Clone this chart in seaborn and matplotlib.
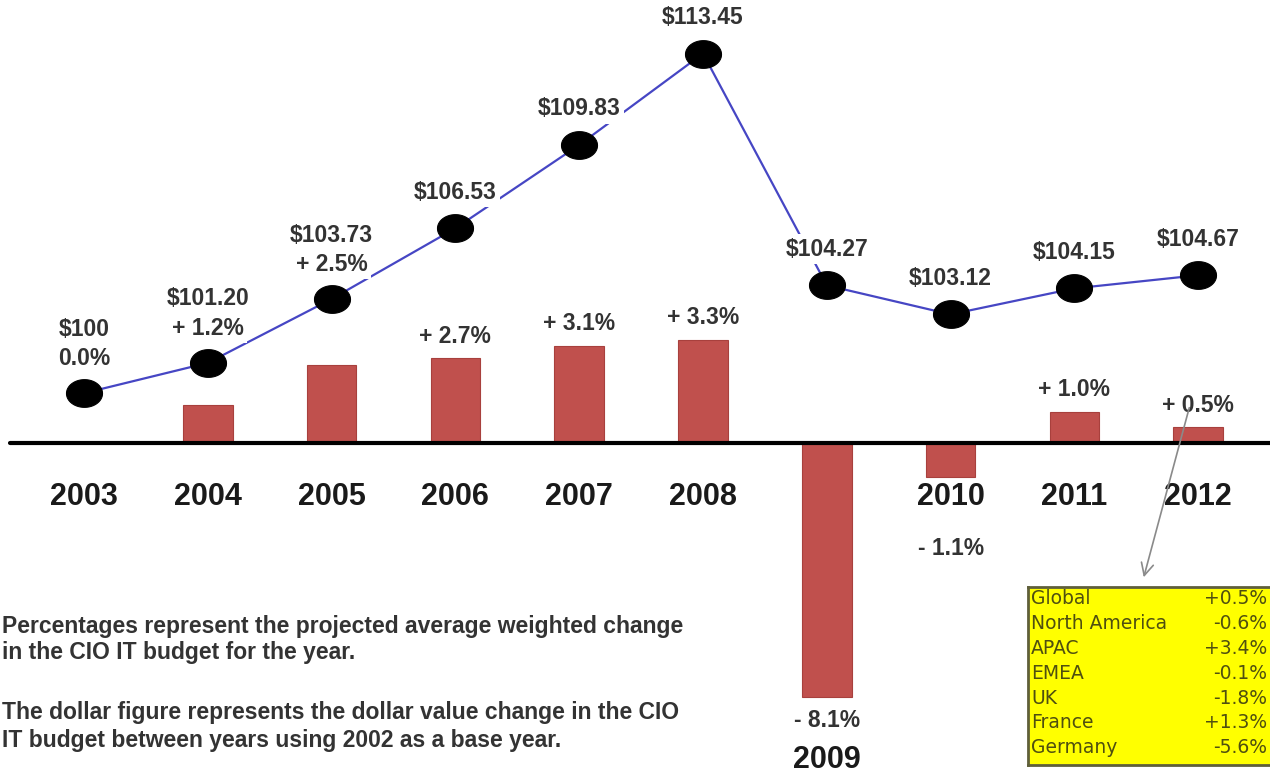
import numpy as np
import pandas as pd
import matplotlib
matplotlib.use("Agg")
import matplotlib.pyplot as plt
from matplotlib.path import Path
import seaborn as sns

# ---------------- data ----------------
years = ["2003", "2004", "2005", "2006", "2007", "2008", "2009", "2010", "2011", "2012"]
pct_change = [0.0, 1.2, 2.5, 2.7, 3.1, 3.3, -8.1, -1.1, 1.0, 0.5]
dollar_value = [100.00, 101.20, 103.73, 106.53, 109.83, 113.45, 104.27, 103.12, 104.15, 104.67]

regions = ["Global", "North America", "APAC", "EMEA", "UK", "France", "Germany"]
region_change = ["+0.5%", "-0.6%", "+3.4%", "-0.1%", "-1.8%", "+1.3%", "-5.6%"]

note_lines = [
    "Percentages represent the projected average weighted change",
    "in the CIO IT budget for the year.",
    "The dollar figure represents the dollar value change in the CIO",
    "IT budget between years using 2002 as a base year.",
]

# ---------------- style ----------------
sns.set_theme(style="white")
plt.rcParams["font.family"] = ["Liberation Sans", "DejaVu Sans"]

W, H = 1270, 773
X0, DX = 84, 123.8
fig = plt.figure(figsize=(W / 100, H / 100), dpi=100)
fig.patch.set_facecolor("white")
ax = fig.add_axes([0, 0, 1, 1])

df = pd.DataFrame({"year": years, "pct": pct_change, "dollar": dollar_value})
df["pos"] = np.arange(len(df))

BAR = "#c0504d"
LINE = "#4646c4"
TXT = "#333333"

sns.barplot(data=df, x="year", y="pct", ax=ax, color=BAR, width=0.4,
            saturation=1, edgecolor="#a8403d", linewidth=0.8, zorder=2)

# axis mapping: zero at 443 px, 31.3 px per percent
ax.set_xlim(-X0 / DX, (W - X0) / DX)
ax.set_ylim(-(H - 443) / 31.3, 443 / 31.3)
ax.axis("off")
ax.axhline(0, xmin=10 / W, xmax=1, color="black", lw=3, zorder=3)

# dollar line on twin axis
ax2 = ax.twinx()
theta = np.linspace(0, 2 * np.pi, 60)
ellipse = Path(np.column_stack([1.3 * np.cos(theta), np.sin(theta)]), closed=True)
sns.lineplot(data=df, x="pos", y="dollar", ax=ax2, color=LINE, lw=1.6,
             marker=ellipse, markersize=26, markerfacecolor="black",
             markeredgecolor="black", zorder=3)
ax2.set_xlim(ax.get_xlim())
ax2.set_ylim(84.96, 115.57)
ax2.axis("off")


def fmt_pct(v):
    if v > 0:
        return f"+ {v:.1f}%"
    if v < 0:
        return f"- {abs(v):.1f}%"
    return f"{v:.1f}%"


def fmt_dollar(v):
    return "$100" if v == 100 else f"${v:.2f}"


LBL = 16.5
YR = 22
bb = dict(boxstyle="square,pad=0.15", fc="white", ec="none")
for i, (yr, p, d) in enumerate(zip(years, pct_change, dollar_value)):
    if i <= 2:
        ax2.annotate(fmt_dollar(d), (i, d), xytext=(0, 46), textcoords="offset points",
                     ha="center", va="center", fontsize=LBL, fontweight="bold",
                     color=TXT, bbox=bb, zorder=4)
        ax2.annotate(fmt_pct(p), (i, d), xytext=(0, 25), textcoords="offset points",
                     ha="center", va="center", fontsize=LBL, fontweight="bold",
                     color=TXT, bbox=bb, zorder=4)
    else:
        ax2.annotate(fmt_dollar(d), (i, d), xytext=(0, 26), textcoords="offset points",
                     ha="center", va="center", fontsize=LBL, fontweight="bold",
                     color=TXT, bbox=bb, zorder=4)
        if p > 0:
            ax.annotate(fmt_pct(p), (i, p), xytext=(0, 16), textcoords="offset points",
                        ha="center", va="center", fontsize=LBL, fontweight="bold", color=TXT)
    # year labels
    if p < -5:
        ax.annotate(fmt_pct(p), (i, p), xytext=(0, -17), textcoords="offset points",
                    ha="center", va="center", fontsize=LBL, fontweight="bold", color=TXT)
        ax.annotate(yr, (i, p), xytext=(0, -46), textcoords="offset points",
                    ha="center", va="center", fontsize=YR, fontweight="bold", color="#1a1a1a")
    else:
        ax.annotate(yr, (i, 0), xytext=(0, -39), textcoords="offset points",
                    ha="center", va="center", fontsize=YR, fontweight="bold", color="#1a1a1a")
        if p < 0:
            ax.annotate(fmt_pct(p), (i, 0), xytext=(0, -76), textcoords="offset points",
                        ha="center", va="center", fontsize=LBL, fontweight="bold", color=TXT)

# explanatory notes
note_y = [627, 652, 713, 740]
for txt, yy in zip(note_lines, note_y):
    fig.text(2 / W, 1 - yy / H, txt, ha="left", va="center", fontsize=16.5,
             fontweight="bold", color=TXT)

# regional table
tab = fig.add_axes([1028 / W, 1 - 765 / H, (1280 - 1028) / W, (765 - 587) / H])
tab.set_facecolor("#ffff00")
tab.set_xticks([])
tab.set_yticks([])
for s in tab.spines.values():
    s.set_color("#5f5f3a")
    s.set_linewidth(2)
TAB_TXT = "#4f4f10"
for k, (r, v) in enumerate(zip(regions, region_change)):
    yy = 1 - (12 + 24.8 * k) / 178
    tab.text(0.012, yy, r, transform=tab.transAxes, ha="left", va="center",
             fontsize=13.5, color=TAB_TXT, family="DejaVu Sans")
    tab.text((1267 - 1028) / 252, yy, v, transform=tab.transAxes, ha="right", va="center",
             fontsize=13.5, color=TAB_TXT, family="DejaVu Sans")

# arrow from the 2012 label to the table
ax.annotate("", xy=((1143 - X0) / DX, (443 - 580) / 31.3),
            xytext=((1190 - X0) / DX, (443 - 405) / 31.3),
            arrowprops=dict(arrowstyle="->", color="#8a8a8a", lw=1.2,
                            mutation_scale=22), zorder=5)

fig.savefig("out.png", dpi=100, facecolor="white")
